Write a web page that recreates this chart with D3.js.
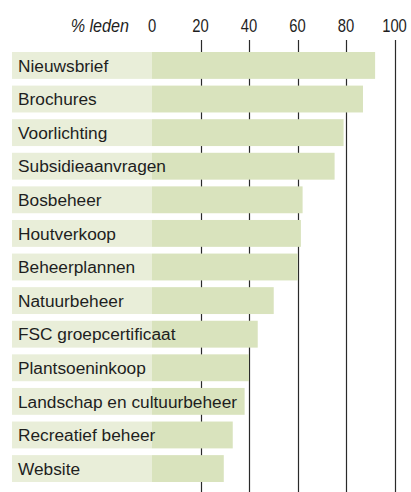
<!DOCTYPE html>
<html>
<head>
<meta charset="utf-8">
<script src="https://cdn.jsdelivr.net/npm/d3@7"></script>
<style>
  body { margin: 0; background: #fff; }
  svg { display: block; }
</style>
</head>
<body>
<div id="chart"></div>
<script>
// Leden per dienst (% leden)
const categories = [
  'Nieuwsbrief', 'Brochures', 'Voorlichting', 'Subsidieaanvragen', 'Bosbeheer',
  'Houtverkoop', 'Beheerplannen', 'Natuurbeheer', 'FSC groepcertificaat',
  'Plantsoeninkoop', 'Landschap en cultuurbeheer', 'Recreatief beheer', 'Website'
];
const values = [92, 87, 79, 75.3, 62.1, 61.4, 60.1, 50.2, 43.6, 40, 38.2, 33.3, 29.6];
const tickValues = [0, 20, 40, 60, 80, 100];
const gridValues = [20, 40, 60, 80, 100];
const axisTitle = '% leden';

const width = 411;
const height = 492;

const svg = d3.select('#chart')
  .append('svg')
  .attr('width', width)
  .attr('height', height);

// Scales
const xScale = d3.scaleLinear()
  .domain([0, 100])
  .range([152, 394.5]);

const yScale = d3.scaleBand()
  .domain(categories)
  .range([52, 482])
  .paddingInner(0.2)
  .paddingOuter(0);

const sans = '"Liberation Sans", Arial, sans-serif';

// Grid lines (behind bars)
svg.selectAll('.grid')
  .data(gridValues)
  .enter()
  .append('line')
  .attr('class', 'grid')
  .attr('x1', d => Math.round(xScale(d)) + 0.5)
  .attr('x2', d => Math.round(xScale(d)) + 0.5)
  .attr('y1', 40)
  .attr('y2', height)
  .attr('stroke', '#2a2a2a')
  .attr('stroke-width', 1.2);

// Label background
svg.selectAll('.label-bg')
  .data(categories)
  .enter()
  .append('rect')
  .attr('class', 'label-bg')
  .attr('x', 12)
  .attr('y', d => yScale(d))
  .attr('width', xScale(0) - 12)
  .attr('height', yScale.bandwidth())
  .attr('fill', '#e9eed9');

// Bars
svg.selectAll('.bar')
  .data(categories)
  .enter()
  .append('rect')
  .attr('class', 'bar')
  .attr('x', xScale(0))
  .attr('y', d => yScale(d))
  .attr('width', (d, i) => xScale(values[i]) - xScale(0))
  .attr('height', yScale.bandwidth())
  .attr('fill', '#d9e3bd');

// Category labels
svg.selectAll('.cat-label')
  .data(categories)
  .enter()
  .append('text')
  .attr('class', 'cat-label')
  .attr('x', 18)
  .attr('y', d => yScale(d) + yScale.bandwidth() / 2)
  .attr('dy', '0.36em')
  .style('font-family', sans)
  .style('font-size', '17.3px')
  .style('fill', '#1e1e1e')
  .text(d => d);

// Tick labels (condensed look via horizontal squeeze)
svg.selectAll('.tick-label')
  .data(tickValues)
  .enter()
  .append('text')
  .attr('class', 'tick-label')
  .attr('transform', d => `translate(${xScale(d)},32) scale(0.8,1)`)
  .attr('text-anchor', 'middle')
  .style('font-family', sans)
  .style('font-size', '18.5px')
  .style('fill', '#1e1e1e')
  .text(d => d);

// Axis title
svg.append('text')
  .attr('transform', 'translate(129,32) scale(0.85,1)')
  .attr('text-anchor', 'end')
  .style('font-family', sans)
  .style('font-style', 'italic')
  .style('font-size', '19px')
  .style('fill', '#1e1e1e')
  .text(axisTitle);
</script>
</body>
</html>
